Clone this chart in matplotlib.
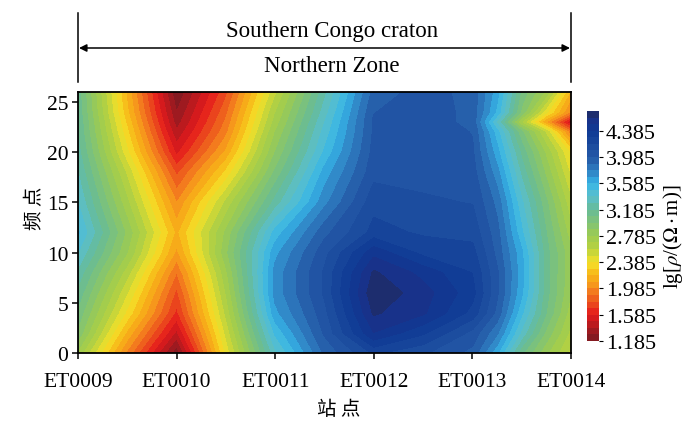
import numpy as np
import matplotlib
matplotlib.use('Agg')
import matplotlib.pyplot as plt
from matplotlib.colors import LinearSegmentedColormap

plt.rcParams['font.family'] = ['Liberation Serif', 'Noto Sans CJK SC', 'DejaVu Sans']
plt.rcParams['mathtext.fontset'] = 'stix'

stations = ['ET0009', 'ET0010', 'ET0011', 'ET0012', 'ET0013', 'ET0014']
freq_points = [0, 2, 4, 6, 8, 10, 12, 15, 18, 20, 22, 23, 24, 26]
# positions along the profile, 0 = ET0009, 5 = ET0014
profile_pos = [0, 0.5, 1, 1.5, 2, 2.5, 3, 3.5, 4, 4.25, 4.5, 4.75, 5]

# lg(rho), one list per profile position
col_00 = [2.75, 2.95, 3.05, 3.15, 3.25, 3.38, 3.50, 3.38, 3.28, 3.22, 3.18, 3.17, 3.15, 3.13]
col_05 = [1.95, 2.15, 2.35, 2.48, 2.62, 2.78, 2.85, 2.70, 2.55, 2.40, 2.30, 2.25, 2.20, 2.15]
col_10 = [1.20, 1.45, 1.65, 1.75, 1.88, 2.05, 2.15, 1.98, 1.75, 1.55, 1.40, 1.33, 1.28, 1.19]
col_15 = [2.40, 2.50, 2.60, 2.68, 2.75, 2.85, 2.80, 2.60, 2.30, 2.10, 1.95, 1.90, 1.85, 1.75]
col_20 = [3.35, 3.50, 3.65, 3.72, 3.72, 3.65, 3.52, 3.22, 3.00, 2.88, 2.78, 2.72, 2.67, 2.55]
col_25 = [3.90, 4.00, 4.05, 4.10, 4.10, 4.05, 3.95, 3.75, 3.62, 3.50, 3.42, 3.38, 3.33, 3.25]
col_30 = [4.20, 4.48, 4.60, 4.66, 4.60, 4.45, 4.22, 4.15, 4.05, 4.02, 4.00, 4.00, 3.98, 3.92]
col_35 = [4.10, 4.30, 4.50, 4.53, 4.45, 4.25, 4.17, 4.10, 4.05, 4.05, 4.05, 4.05, 4.05, 4.03]
col_40 = [3.95, 4.05, 4.25, 4.32, 4.28, 4.22, 4.15, 4.08, 4.03, 4.00, 3.98, 3.95, 3.95, 3.95]
col_425 = [3.60, 3.80, 3.95, 4.00, 4.00, 3.95, 3.92, 3.85, 3.72, 3.62, 3.52, 3.35, 3.55, 3.62]
col_45 = [3.10, 3.35, 3.50, 3.60, 3.62, 3.60, 3.50, 3.40, 3.25, 3.15, 3.00, 2.65, 2.95, 3.05]
col_475 = [2.80, 2.95, 3.08, 3.12, 3.12, 3.12, 3.08, 3.00, 2.85, 2.75, 2.55, 2.05, 2.40, 2.75]
col_50 = [2.55, 2.65, 2.72, 2.78, 2.80, 2.80, 2.72, 2.60, 2.45, 2.35, 1.90, 1.45, 1.95, 2.15]

cbar_ticks = [1.185, 1.585, 1.985, 2.385, 2.785, 3.185, 3.585, 3.985, 4.385]

W, H = 700, 435

def fx(px):
    return px / W

def fy(py):
    return 1 - py / H

rho = np.column_stack([col_00, col_05, col_10, col_15, col_20, col_25, col_30,
                       col_35, col_40, col_425, col_45, col_475, col_50])

vmin, vmax = 1.185, 4.685
levels = np.arange(0, 36) * 0.1 + vmin
stops = [(1.185, '#7a1a22'), (1.585, '#e41a1c'), (1.985, '#f58c1e'), (2.185, '#f8b617'),
         (2.385, '#f4e129'), (2.585, '#b9d23f'), (2.785, '#9ccb52'), (3.185, '#66bb98'),
         (3.385, '#5bbfcb'), (3.585, '#36b6e8'), (3.785, '#2f7dc0'), (3.985, '#2458a6'),
         (4.385, '#0f3a94'), (4.585, '#1a3088'), (4.685, '#1f2b5c')]
cmap = LinearSegmentedColormap.from_list(
    'rho', [((v - vmin) / (vmax - vmin), c) for v, c in stops], N=256)

fig = plt.figure(figsize=(7, 4.35), dpi=100)
ax = fig.add_axes([fx(78), fy(354), fx(571) - fx(78), fy(93) - fy(354)])
cs = ax.contourf(profile_pos, freq_points, rho, levels=levels, cmap=cmap,
                 vmin=vmin, vmax=vmax)
cs.set_edgecolor('face')
cs.set_linewidth(0.4)
ax.set_xlim(0, 5)
ax.set_ylim(0, 26)
ax.set_xticks(range(6))
ax.set_xticklabels(stations)
ax.set_yticks([0, 5, 10, 15, 20, 25])
ax.tick_params(labelsize=15.5, length=4, width=1.1)
ax.tick_params(axis='x', pad=10)
ax.tick_params(axis='y', pad=3)
for s in ax.spines.values():
    s.set_linewidth(1.3)

cax = fig.add_axes([fx(587), fy(342), fx(599) - fx(587), fy(112) - fy(342)])
cb = fig.colorbar(cs, cax=cax)
cb.set_ticks(cbar_ticks)
cb.set_ticklabels(['%.3f' % t for t in cbar_ticks])
cb.ax.tick_params(labelsize=16, length=3, width=0.8, pad=2)
cb.outline.set_visible(False)

fig.text(fx(339), fy(410), '站 点', fontsize=14, ha='center', va='center',
         family='Noto Sans CJK SC', weight='light')
fig.text(fx(35), fy(208), '频 点', fontsize=14, ha='center', va='center', rotation=90,
         family='Noto Sans CJK SC', weight='light')
fig.text(fx(673), fy(237), r'lg[$\rho$/($\Omega\cdot$m)]', fontsize=15, ha='center',
         va='center', rotation=90)

# header above the section
for px in (78, 571):
    fig.add_artist(plt.Line2D([fx(px), fx(px)], [fy(14), fy(83)], color='black', lw=1.1))
ax.annotate('', xy=(fx(79), fy(49)), xytext=(fx(570), fy(49)), xycoords='figure fraction',
            textcoords='figure fraction',
            arrowprops=dict(arrowstyle='<|-|>', color='black', lw=1.1, mutation_scale=11,
                            shrinkA=0, shrinkB=0))
fig.text(fx(332), fy(31), 'Southern Congo craton', fontsize=16.5, ha='center', va='center')
fig.text(fx(332), fy(66), 'Northern Zone', fontsize=16.5, ha='center', va='center')

fig.savefig('out.png', dpi=100)
